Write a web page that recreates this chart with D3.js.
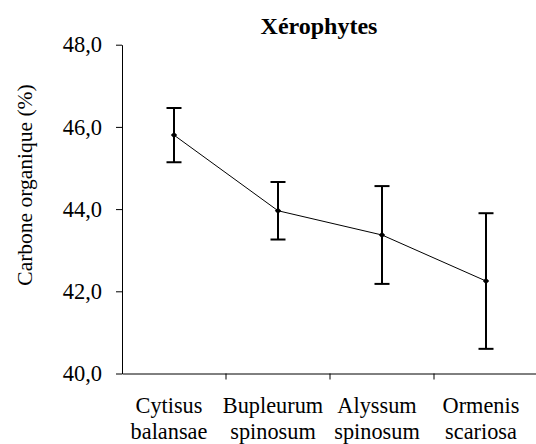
<!DOCTYPE html>
<html>
<head>
<meta charset="utf-8">
<script src="https://cdn.jsdelivr.net/npm/d3@7"></script>
</head>
<body style="margin:0">
<svg id="chart" width="536" height="444"></svg>
<script>
// Species (two-line labels) and organic carbon means with their error half-widths
const species = [
  ["Cytisus", "balansae"],
  ["Bupleurum", "spinosum"],
  ["Alyssum", "spinosum"],
  ["Ormenis", "scariosa"]
];
const meanCarbon = [45.80, 43.96, 43.37, 42.25];
const errCarbon = [0.66, 0.70, 1.19, 1.65];
const yTicks = [40, 42, 44, 46, 48];
const title = "Xérophytes";
const yTitle = "Carbone organique (%)";

const FONT = '"Liberation Serif"';

const svg = d3.select("#chart");
const plotLeft = 122, plotRight = 538, plotTop = 44.7, plotBottom = 373.5;

const keys = species.map(s => s.join(" "));
const x = d3.scaleBand().domain(keys).range([plotLeft, plotRight]).padding(0);
const y = d3.scaleLinear().domain([40, 48]).range([plotBottom, plotTop]);

const fmt = v => d3.format(".1f")(v).replace(".", ",");

// Y axis
const yAxis = svg.append("g")
  .attr("transform", `translate(${plotLeft},0)`)
  .call(d3.axisLeft(y).tickValues(yTicks).tickFormat(fmt)
    .tickSize(6).tickSizeOuter(0).tickPadding(14));
yAxis.attr("font-family", null).attr("font-size", null);
yAxis.selectAll("path, line").attr("stroke", "#000").attr("stroke-width", 1);
yAxis.selectAll("text")
  .style("font-family", FONT)
  .style("font-size", "22.5px")
  .attr("fill", "#000");

// X axis: baseline with separator ticks between categories
const xAxis = svg.append("g")
  .attr("transform", `translate(0,${plotBottom})`)
  .call(d3.axisBottom(x).tickSize(0).tickFormat(""));
xAxis.select("path.domain").attr("stroke", "#000").attr("stroke-width", 1);
xAxis.selectAll(".tick").remove();

xAxis.selectAll("line.sep")
  .data(keys)
  .join("line")
  .attr("class", "sep")
  .attr("x1", d => x(d) + x.bandwidth())
  .attr("x2", d => x(d) + x.bandwidth())
  .attr("y1", 0).attr("y2", 6)
  .attr("stroke", "#000").attr("stroke-width", 1);

// Category labels, slightly left of the band centre
const labelX = i => x(keys[i]) + x.bandwidth() / 2 - 5;
const catLabels = svg.append("g").selectAll("text")
  .data(species)
  .join("text")
  .attr("text-anchor", "middle")
  .style("font-family", FONT)
  .style("font-size", "22.3px");
catLabels.append("tspan")
  .attr("x", (d, i) => labelX(i))
  .attr("y", 412.5)
  .text(d => d[0]);
catLabels.append("tspan")
  .attr("x", (d, i) => labelX(i))
  .attr("y", 439)
  .text(d => d[1]);

// Connecting line through the means
const cx = i => x(keys[i]) + x.bandwidth() / 2;
svg.append("path")
  .datum(meanCarbon)
  .attr("fill", "none")
  .attr("stroke", "#000")
  .attr("stroke-width", 1)
  .attr("d", d3.line().x((d, i) => cx(i)).y(d => y(d)));

// Error bars
const bars = svg.append("g").selectAll("g")
  .data(meanCarbon)
  .join("g");
bars.append("line")
  .attr("x1", (d, i) => cx(i)).attr("x2", (d, i) => cx(i))
  .attr("y1", (d, i) => y(d + errCarbon[i]))
  .attr("y2", (d, i) => y(d - errCarbon[i]))
  .attr("stroke", "#000").attr("stroke-width", 2);
[1, -1].forEach(s => {
  bars.append("line")
    .attr("x1", (d, i) => cx(i) - 7.5).attr("x2", (d, i) => cx(i) + 7.5)
    .attr("y1", (d, i) => y(d + s * errCarbon[i]))
    .attr("y2", (d, i) => y(d + s * errCarbon[i]))
    .attr("stroke", "#000").attr("stroke-width", 2);
});

// Diamond markers
svg.append("g").selectAll("path")
  .data(meanCarbon)
  .join("path")
  .attr("transform", (d, i) => `translate(${cx(i)},${y(d)}) rotate(45)`)
  .attr("d", d3.symbol(d3.symbolSquare, 20))
  .attr("fill", "#000");

// Title
svg.append("text")
  .attr("x", 319).attr("y", 34)
  .attr("text-anchor", "middle")
  .style("font-family", FONT)
  .style("font-size", "24px")
  .style("font-weight", "bold")
  .text(title);

// Y axis title
svg.append("text")
  .attr("transform", "translate(32,185) rotate(-90)")
  .attr("text-anchor", "middle")
  .style("font-family", FONT)
  .style("font-size", "21.5px")
  .text(yTitle);
</script>
</body>
</html>
